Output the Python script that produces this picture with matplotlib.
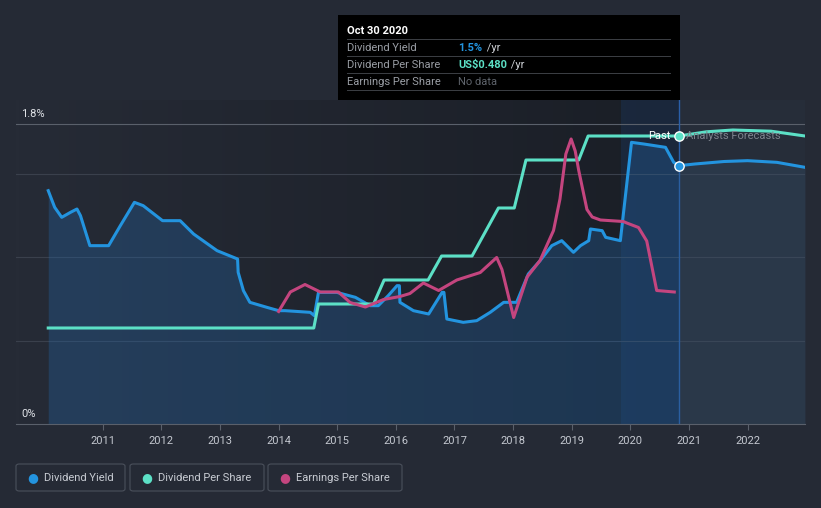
import matplotlib.pyplot as plt
import numpy as np
from matplotlib.colors import LinearSegmentedColormap
from matplotlib.patches import FancyBboxPatch, Rectangle
from matplotlib.text import Annotation

plt.rcParams['font.family'] = ['Roboto', 'DejaVu Sans']

# dividend yield (%) - past
yield_x = [2010.07, 2010.18, 2010.30, 2010.45, 2010.56, 2010.62, 2010.78, 2011.10, 2011.30, 2011.54,
           2011.69, 2012.02, 2012.32, 2012.55, 2012.95, 2013.30, 2013.31, 2013.40, 2013.51, 2013.80,
           2014.00, 2014.11, 2014.54, 2014.61, 2014.68, 2014.99, 2015.31, 2015.56, 2015.70, 2015.87,
           2016.02, 2016.06, 2016.07, 2016.30, 2016.56, 2016.79, 2016.82, 2016.87, 2017.15, 2017.38,
           2017.61, 2017.84, 2018.06, 2018.26, 2018.46, 2018.66, 2018.83, 2019.03, 2019.15, 2019.29,
           2019.32, 2019.52, 2019.58, 2019.83, 2020.02, 2020.23, 2020.60, 2020.74, 2020.83]
yield_y = [1.40, 1.30, 1.24, 1.27, 1.29, 1.25, 1.07, 1.07, 1.19, 1.33,
           1.31, 1.22, 1.22, 1.14, 1.04, 0.99, 0.91, 0.80, 0.73, 0.70,
           0.68, 0.68, 0.67, 0.65, 0.79, 0.79, 0.76, 0.71, 0.71, 0.77,
           0.83, 0.83, 0.73, 0.68, 0.66, 0.79, 0.79, 0.63, 0.61, 0.62,
           0.67, 0.73, 0.73, 0.90, 0.98, 1.07, 1.10, 1.03, 1.07, 1.10,
           1.17, 1.16, 1.12, 1.10, 1.69, 1.68, 1.66, 1.57, 1.55]
# dividend yield forecast
yield_fx = [2020.83, 2021.10, 2021.60, 2022.00, 2022.50, 2022.98]
yield_fy = [1.55, 1.56, 1.575, 1.58, 1.57, 1.54]

# dividend per share (US$)
dps_x = [2010.07, 2014.60, 2014.68, 2015.62, 2015.80, 2016.55, 2016.78, 2017.30, 2017.75, 2018.02,
         2018.22, 2019.12, 2019.28, 2020.83]
dps_y = [0.16, 0.16, 0.20, 0.20, 0.24, 0.24, 0.28, 0.28, 0.36, 0.36,
         0.44, 0.44, 0.48, 0.48]
dps_fx = [2020.83, 2021.30, 2021.75, 2022.40, 2022.98]
dps_fy = [0.48, 0.487, 0.49, 0.488, 0.48]

# earnings per share (US$)
eps_x = [2014.00, 2014.20, 2014.45, 2014.71, 2015.02, 2015.22, 2015.48, 2015.79, 2016.07, 2016.24,
         2016.47, 2016.73, 2017.04, 2017.44, 2017.72, 2017.81, 2018.01, 2018.24, 2018.46, 2018.69,
         2018.80, 2018.90, 2018.99, 2019.06, 2019.12, 2019.26, 2019.35, 2019.49, 2019.88, 2019.94,
         2020.14, 2020.28, 2020.45, 2020.75]
eps_y = [0.75, 0.88, 0.93, 0.88, 0.88, 0.81, 0.78, 0.83, 0.85, 0.87,
         0.94, 0.89, 0.96, 1.01, 1.11, 1.03, 0.71, 0.98, 1.09, 1.29,
         1.50, 1.80, 1.90, 1.82, 1.69, 1.43, 1.38, 1.36, 1.35, 1.34,
         1.31, 1.22, 0.89, 0.88]

years = [2011, 2012, 2013, 2014, 2015, 2016, 2017, 2018, 2019, 2020, 2021, 2022]
now = 2020.83

bg = '#252a35'
c_yield = '#2394df'
c_dps = '#5ce0c6'
c_eps = '#c4457f'

fig = plt.figure(figsize=(8.21, 5.08), dpi=100, facecolor=bg)
ax = fig.add_axes([16 / 821, 84 / 508, 789 / 821, 324 / 508])
ax.set_facecolor('#262d39')
x0, x1 = 2009.52, 2022.98
ax.set_xlim(x0, x1)
ax.set_ylim(0, 1.944)

# past background gradient
cmap = LinearSegmentedColormap.from_list('g', ['#262b36', '#1a1e26'])
ax.imshow(np.linspace(0, 1, 200).reshape(1, -1), extent=[x0, now, 0, 1.944], aspect='auto',
          cmap=cmap, zorder=0)
ax.axvspan(2019.84, now, color='#1b4a8a', alpha=0.22, lw=0, zorder=1)
ax.axvline(now, color='#2a5fa8', lw=1, zorder=2)

for g in [0.5, 1.0, 1.5]:
    ax.axhline(g, color='#3a404c', lw=0.8, zorder=1)
ax.axhline(1.8, color='#5a606b', lw=0.8, zorder=1)

# yield fill and line
ax.fill_between(yield_x, yield_y, 0, color='#2466a8', alpha=0.33, lw=0, zorder=2)
ax.fill_between(yield_fx, yield_fy, 0, color='#38597a', alpha=0.25, lw=0, zorder=2)
ax.plot(yield_x, yield_y, color=c_yield, lw=2.2, zorder=5, solid_joinstyle='round')
ax.plot(yield_fx, yield_fy, color=c_yield, lw=2.2, zorder=5)
ax.scatter([now], [yield_fy[0]], s=45, color=c_yield, edgecolor='white', lw=1, zorder=8)

# dividend per share on its own hidden scale
ax2 = ax.twinx()
ax2.set_ylim(0, 0.54)
ax2.set_axis_off()
ax2.plot(dps_x, dps_y, color=c_dps, lw=2.2, zorder=5)
ax2.plot(dps_fx, dps_fy, color=c_dps, lw=2.2, zorder=5)
ax2.scatter([now], [dps_fy[0]], s=45, color=c_dps, edgecolor='white', lw=1, zorder=8)

# earnings per share on its own hidden scale
ax3 = ax.twinx()
ax3.set_ylim(0, 2.16)
ax3.set_axis_off()
ax3.plot(eps_x, eps_y, color=c_eps, lw=2.2, zorder=4)

ax.set_xticks(years)
ax.set_xticklabels([str(y) for y in years], color='#c4c8d0', fontsize=8)
ax.tick_params(axis='x', length=4, color='#5a606b', pad=5)
ax.set_yticks([])
for s in ['top', 'right', 'left']:
    ax.spines[s].set_visible(False)
ax.spines['bottom'].set_color('#5a606b')

ax.text(0.007, 1.8 + 0.03, '1.8%', color='#e0e3e8', fontsize=8, transform=ax.get_yaxis_transform(),
        va='bottom', ha='left')
ax.text(0.007, 0.03, '0%', color='#e0e3e8', fontsize=8, transform=ax.get_yaxis_transform(),
        va='bottom', ha='left')
ax2.text(now - 0.14, 0.48, 'Past', color='white', fontsize=8, ha='right', va='center', zorder=9)
ax2.text(now + 0.12, 0.48, 'Analysts Forecasts', color='#7d838d', fontsize=8, ha='left', va='center', zorder=9)

# tooltip
def fx(px):
    return px / 821

def fy(py):
    return 1 - py / 508

fig.patches.append(Rectangle((fx(338), fy(100)), fx(342), 85 / 508, transform=fig.transFigure,
                             facecolor='black', edgecolor='none', zorder=10))
fig.text(fx(347), fy(31), 'Oct 30 2020', color='white', fontsize=8, fontweight='bold', va='center', zorder=11)
rows = [('Dividend Yield', '1.5%', c_yield, ' /yr'),
        ('Dividend Per Share', 'US$0.480', c_dps, ' /yr'),
        ('Earnings Per Share', 'No data', '#5f646c', '')]
for i, (lab, val, col, unit) in enumerate(rows):
    yy = 48 + i * 17
    fig.patches.append(Rectangle((fx(347), fy(40 + i * 17)), fx(324), 0.8 / 508, transform=fig.transFigure,
                                 facecolor='#3a3d42', edgecolor='none', zorder=11))
    fig.text(fx(347), fy(yy), lab, color='#9a9ea5', fontsize=8, va='center', zorder=11)
    t = fig.text(fx(458), fy(yy), val, color=col, fontsize=8, va='center', zorder=11,
                 fontweight='bold' if unit else 'normal')
    if unit:
        fig.add_artist(Annotation(unit, xy=(1, 0.5), xycoords=t, xytext=(1, 0), textcoords='offset points',
                                  color='#d0d3d8', fontsize=8, va='center', ha='left', zorder=11))
fig.patches.append(Rectangle((fx(347), fy(91)), fx(324), 0.8 / 508, transform=fig.transFigure,
                             facecolor='#3a3d42', edgecolor='none', zorder=11))

# legend boxes
legend = [('Dividend Yield', c_yield, 16, 125), ('Dividend Per Share', c_dps, 130, 264),
          ('Earnings Per Share', c_eps, 268, 402)]
for lab, col, lx, rx in legend:
    fig.patches.append(FancyBboxPatch((fx(lx), fy(491)), fx(rx - lx), 27 / 508,
                                      boxstyle='round,pad=0,rounding_size=0.004', transform=fig.transFigure,
                                      facecolor='none', edgecolor='#4a505b', lw=0.8))
    fig.text(fx(lx + 11), fy(478), '●', color=col, fontsize=9, va='center', ha='left')
    fig.text(fx(lx + 28), fy(478), lab, color='#c8ccd3', fontsize=8, va='center', ha='left')

fig.savefig('out.png', dpi=100, facecolor=bg)
